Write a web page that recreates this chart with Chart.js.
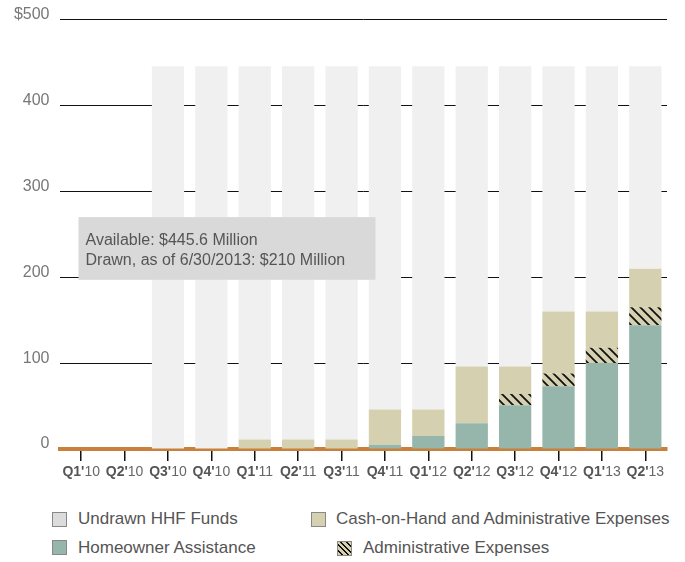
<!DOCTYPE html>
<html lang="en">
<head>
<meta charset="UTF-8">
<title>HHF Funds</title>
<script src="https://cdn.jsdelivr.net/npm/chart.js"></script>
<style>
    body { margin: 0; background: #fff; }
    #wrap { position: relative; width: 685px; height: 562px; font-family: "Liberation Sans", Arial, sans-serif; }
    #myChart { position: absolute; left: 0; top: 0; }
    .lg { position: absolute; font-size: 17px; color: #555; line-height: 20px; white-space: nowrap; }
    .sw { position: absolute; width: 13px; height: 13px; border: 1px solid #888; }
</style>
</head>
<body>
<div id="wrap">
    <canvas id="myChart" width="685" height="495"></canvas>

    <div class="sw" style="left:52px;top:512px;background:#DCDCDC;"></div>
    <div class="lg" style="left:78px;top:509px;">Undrawn HHF Funds</div>
    <div class="sw" style="left:311px;top:512px;background:#D5D0AF;"></div>
    <div class="lg" style="left:336px;top:509px;">Cash-on-Hand and Administrative Expenses</div>
    <div class="sw" style="left:52px;top:540px;background:#96B5AB;"></div>
    <div class="lg" style="left:78px;top:538px;">Homeowner Assistance</div>
    <div class="sw" style="left:337px;top:541px;background:repeating-linear-gradient(45deg,#D5D0AF 0 2.5px,#111 2.5px 4px);"></div>
    <div class="lg" style="left:363px;top:538px;">Administrative Expenses</div>
</div>
<script>
    // quarters and stacked segments ($ millions)
    const quarters = ["Q1'10", "Q2'10", "Q3'10", "Q4'10", "Q1'11", "Q2'11", "Q3'11", "Q4'11",
                      "Q1'12", "Q2'12", "Q3'12", "Q4'12", "Q1'13", "Q2'13"];
    const homeowner = [0, 0, 0, 0, 0, 0, 0, 5, 15, 30, 51, 73, 100, 144];
    const adminExp  = [0, 0, 0, 0, 0, 0, 0, 0, 0, 0, 13, 15, 18, 21];
    const cashOnHand = [0, 0, 0, 0, 11, 11, 11, 41, 31, 66, 32, 72, 42, 45];
    const undrawn   = [0, 0, 445.6, 445.6, 434.6, 434.6, 434.6, 399.6, 399.6, 349.6, 349.6, 285.6, 285.6, 235.6];
    const yTicks = [0, 100, 200, 300, 400, 500];
    const noteLines = ['Available: $445.6 Million', 'Drawn, as of 6/30/2013: $210 Million'];

    const FONT = '"Liberation Sans", Arial, sans-serif';

    // diagonal hatch for admin expenses
    function makeHatch() {
        const pc = document.createElement('canvas');
        pc.width = 9; pc.height = 9;
        const p = pc.getContext('2d');
        p.fillStyle = '#D5D0AF';
        p.fillRect(0, 0, 9, 9);
        p.strokeStyle = '#111';
        p.lineWidth = 1.8;
        p.beginPath();
        p.moveTo(-2, -2); p.lineTo(11, 11);
        p.moveTo(-2, 7); p.lineTo(2, 11);
        p.moveTo(7, -2); p.lineTo(11, 2);
        p.stroke();
        return p.createPattern(pc, 'repeat');
    }

    const notePlugin = {
        id: 'note',
        afterDatasetsDraw(chart) {
            const {ctx, scales: {y}, chartArea} = chart;
            const top = y.getPixelForValue(270);
            const bottom = y.getPixelForValue(197);
            ctx.save();
            ctx.fillStyle = '#D9D9D9';
            ctx.fillRect(chartArea.left + 19, top, 297, bottom - top);
            ctx.fillStyle = '#555';
            ctx.font = '16px ' + FONT;
            ctx.textBaseline = 'alphabetic';
            ctx.fillText(noteLines[0], chartArea.left + 26, top + 28);
            ctx.fillText(noteLines[1], chartArea.left + 26, top + 48);
            ctx.restore();
        }
    };

    // x labels: "Q1'" bold, year normal
    const xLabelPlugin = {
        id: 'xlabels',
        afterDraw(chart) {
            const {ctx, scales: {x}} = chart;
            ctx.save();
            ctx.textBaseline = 'middle';
            ctx.textAlign = 'left';
            quarters.forEach((q, i) => {
                const head = q.slice(0, 3);
                const tail = q.slice(3);
                ctx.font = 'bold 14px ' + FONT;
                const w1 = ctx.measureText(head).width;
                ctx.font = '14px ' + FONT;
                const w2 = ctx.measureText(tail).width;
                const cx = x.getPixelForValue(i);
                const sx = cx - (w1 + w2) / 2;
                ctx.fillStyle = '#555';
                ctx.font = 'bold 14px ' + FONT;
                ctx.fillText(head, sx, 472);
                ctx.fillStyle = '#666';
                ctx.font = '14px ' + FONT;
                ctx.fillText(tail, sx + w1, 472);
            });
            ctx.restore();
        }
    };

    const ctx = document.getElementById('myChart').getContext('2d');
    const bar = {barPercentage: 0.744, categoryPercentage: 1, borderWidth: 0};

    new Chart(ctx, {
        type: 'bar',
        data: {
            labels: quarters,
            datasets: [
                {label: 'Homeowner Assistance', data: homeowner, backgroundColor: '#96B5AB', ...bar},
                {label: 'Administrative Expenses', data: adminExp, backgroundColor: makeHatch(), ...bar},
                {label: 'Cash-on-Hand and Administrative Expenses', data: cashOnHand, backgroundColor: '#D5D0AF', ...bar},
                {label: 'Undrawn HHF Funds', data: undrawn, backgroundColor: '#F0F0F0', ...bar}
            ]
        },
        options: {
            responsive: false,
            animation: false,
            layout: {padding: {top: 18, right: 18, left: 0, bottom: 0}},
            plugins: {legend: {display: false}, tooltip: {enabled: false}},
            scales: {
                x: {
                    stacked: true,
                    z: 1,
                    afterFit(scale) { scale.height = 46; },
                    grid: {display: true, offset: false, drawOnChartArea: false, drawTicks: true, tickLength: 12, color: '#111', lineWidth: 1.5},
                    border: {display: true, color: '#C8803A', width: 4},
                    ticks: {display: false}
                },
                y: {
                    stacked: true,
                    min: 0,
                    max: 500,
                    afterFit(scale) { scale.width = 59.5; },
                    afterBuildTicks(scale) { scale.ticks = yTicks.map(v => ({value: v})); },
                    grid: {
                        drawTicks: false,
                        color: c => c.tick && c.tick.value === 0 ? 'rgba(0,0,0,0)' : '#111',
                        lineWidth: 1
                    },
                    border: {display: false},
                    ticks: {
                        padding: 10,
                        color: '#777',
                        labelOffset: -5,
                        font: {size: 16, family: FONT},
                        callback: v => v === 500 ? '$500' : v
                    }
                }
            }
        },
        plugins: [notePlugin, xLabelPlugin]
    });
</script>
</body>
</html>
